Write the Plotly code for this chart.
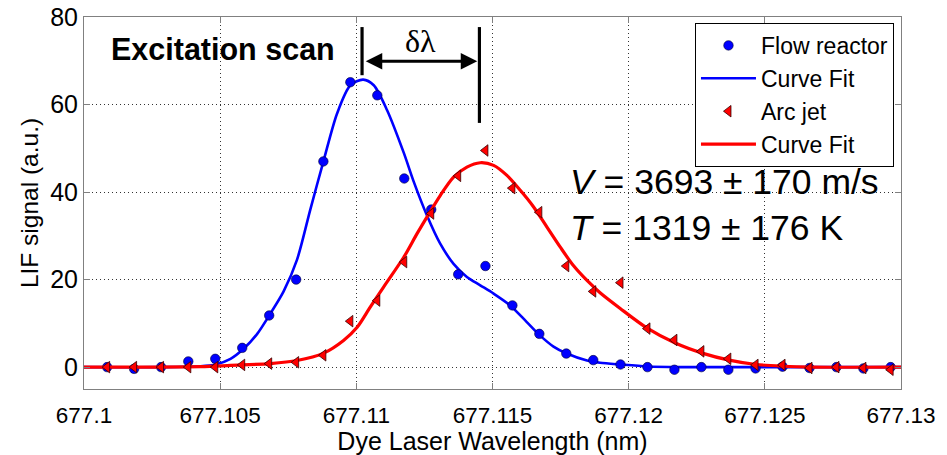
import plotly.graph_objects as go

# Measured LIF excitation scans (wavelength in nm, signal in arbitrary units)
wavelength = [677.10085, 677.10184, 677.10283, 677.10383, 677.10482, 677.10581,
              677.10680, 677.10779, 677.10879, 677.10978, 677.11077, 677.11176,
              677.11275, 677.11374, 677.11474, 677.11573, 677.11672, 677.11771,
              677.11870, 677.11970, 677.12069, 677.12168, 677.12267, 677.12366,
              677.12466, 677.12565, 677.12664, 677.12763, 677.12862, 677.12962]
flow_reactor = [0.0, -0.4, 0.0, 1.3, 1.9, 4.4, 11.8, 20.0, 47.0, 65.1, 62.1, 43.1,
                36.0, 21.2, 23.1, 14.1, 7.6, 3.1, 1.6, 0.6, 0.0, -0.6, 0.0, -0.6,
                -0.3, 0.1, -0.2, 0.0, -0.3, 0.0]
arc_jet = [0.0, 0.0, 0.0, 0.0, 0.0, 0.5, 0.8, 1.1, 2.7, 10.5, 15.2, 24.0,
           35.1, 43.7, 49.5, 40.9, 35.4, 23.1, 17.3, 19.3, 8.8, 6.2, 3.6, 1.9,
           0.5, 0.5, -0.2, 0.0, -0.2, -0.6]

# Fitted line shapes
fit_flow_x = [677.10000, 677.10281, 677.10428, 677.10483, 677.10538, 677.10586,
              677.10636, 677.10684, 677.10733, 677.10782, 677.10831, 677.10880,
              677.10929, 677.10978, 677.11025, 677.11064, 677.11113, 677.11174,
              677.11210, 677.11259, 677.11308, 677.11357, 677.11406, 677.11455,
              677.11504, 677.11565, 677.11626, 677.11675, 677.11724, 677.11773,
              677.11847, 677.11895, 677.11969, 677.12068, 677.12189, 677.13000]
fit_flow_y = [0.0, 0.0, 0.2, 0.6, 1.9, 4.2,
              7.6, 12.2, 17.3, 24.5, 36.0, 47.2,
              57.9, 64.4, 65.7, 64.4, 58.7, 49.0,
              42.5, 34.7, 28.2, 23.6, 20.6, 18.7,
              16.8, 14.1, 10.3, 7.2, 4.7, 3.1,
              1.5, 1.0, 0.6, 0.15, 0.0, 0.0]

fit_arc_x = [677.10000, 677.10428, 677.10538, 677.10684, 677.10782, 677.10880,
             677.10953, 677.11003, 677.11051, 677.11100, 677.11174, 677.11223,
             677.11272, 677.11308, 677.11357, 677.11406, 677.11455, 677.11504,
             677.11553, 677.11602, 677.11651, 677.11700, 677.11749, 677.11797,
             677.11847, 677.11895, 677.11969, 677.12068, 677.12171, 677.12270,
             677.12369, 677.12468, 677.12567, 677.12666, 677.13000]
fit_arc_y = [0.0, 0.1, 0.4, 0.8, 1.5, 3.2,
             6.1, 9.1, 13.7, 18.3, 25.1, 30.5,
             35.6, 39.2, 43.4, 45.7, 46.7, 46.1,
             43.8, 40.4, 36.6, 32.0, 27.4, 23.2,
             19.8, 17.0, 13.4, 8.9, 5.5, 3.2,
             1.6, 0.6, 0.2, 0.0, 0.0]

x_ticks = [677.1, 677.105, 677.11, 677.115, 677.12, 677.125, 677.13]
x_tick_labels = ["677.1", "677.105", "677.11", "677.115", "677.12", "677.125", "677.13"]
y_ticks = [0, 20, 40, 60, 80]

# Line centres marking the Doppler shift
peak_flow = 677.11021
peak_arc = 677.11452

SANS = "Liberation Sans, Arial, sans-serif"
BLUE = "#0000ff"
RED = "#ff0000"

fig = go.Figure()

fig.add_trace(go.Scatter(
    x=fit_flow_x, y=fit_flow_y, mode="lines", name="Curve Fit",
    line=dict(color=BLUE, width=2.6, shape="spline", smoothing=0.8),
    legendrank=2))
fig.add_trace(go.Scatter(
    x=wavelength, y=flow_reactor, mode="markers", name="Flow reactor",
    marker=dict(symbol="circle", size=9.5, color=BLUE,
                line=dict(color="#000033", width=0.6)),
    legendrank=1))
fig.add_trace(go.Scatter(
    x=fit_arc_x, y=fit_arc_y, mode="lines", name="Curve Fit",
    line=dict(color=RED, width=3.2, shape="spline", smoothing=0.8),
    legendrank=4))
fig.add_trace(go.Scatter(
    x=wavelength, y=arc_jet, mode="markers", name="Arc jet",
    marker=dict(symbol="triangle-left", size=10, color=RED,
                line=dict(color="#330000", width=0.8)),
    legendrank=3))

# Shift indicator: two vertical bars and a double-headed arrow
fig.add_shape(type="line", x0=peak_flow, x1=peak_flow, y0=66.7, y1=77.7,
              xref="x", yref="y", line=dict(color="black", width=3.2))
fig.add_shape(type="line", x0=peak_arc, x1=peak_arc, y0=55.8, y1=77.7,
              xref="x", yref="y", line=dict(color="black", width=3.2))
fig.add_annotation(x=peak_arc - 0.00008, y=69.9, ax=peak_flow + 0.00008, ay=69.9,
                   xref="x", yref="y", axref="x", ayref="y", text="",
                   showarrow=True, arrowhead=2, arrowside="end+start",
                   arrowsize=1.1, arrowwidth=3, arrowcolor="black")
fig.add_annotation(x=(peak_flow + peak_arc) / 2, y=74.6, xref="x", yref="y",
                   text="δλ", showarrow=False,
                   font=dict(family="Liberation Serif, Times New Roman, serif",
                             size=32, color="black"))

fig.add_annotation(x=677.1051, y=72.6, xref="x", yref="y",
                   text="<b>Excitation scan</b>", showarrow=False,
                   font=dict(family=SANS, size=30.5, color="black"))
fig.add_annotation(x=677.11778, y=42.2, xref="x", yref="y", xanchor="left",
                   text="<i>V</i> = 3693 ± 170 m/s", showarrow=False,
                   font=dict(family=SANS, size=35.5, color="black"))
fig.add_annotation(x=677.11778, y=31.9, xref="x", yref="y", xanchor="left",
                   text="<i>T</i> = 1319 ± 176 K", showarrow=False,
                   font=dict(family=SANS, size=35.5, color="black"))

axis_common = dict(
    showline=True, linecolor="#808080", linewidth=1, mirror="ticks",
    ticks="inside", ticklen=6, tickcolor="#808080",
    showgrid=True, gridcolor="#333333", griddash="1px,3px", gridwidth=1,
    zeroline=False, automargin=False,
)

fig.update_xaxes(
    range=[677.1, 677.13], tickvals=x_ticks, ticktext=x_tick_labels,
    tickfont=dict(family=SANS, size=22.5, color="black"),
    ticklabelstandoff=6,
    title=dict(text="Dye Laser Wavelength (nm)", standoff=4,
               font=dict(family=SANS, size=25, color="black")),
    **axis_common)
fig.update_yaxes(
    range=[-5, 80], tickvals=y_ticks,
    tickfont=dict(family=SANS, size=25, color="black"),
    title=dict(text="LIF signal (a.u.)", standoff=4,
               font=dict(family=SANS, size=24.5, color="black")),
    **axis_common)

fig.update_layout(
    width=947, height=455,
    margin=dict(l=84, r=46, t=17, b=66),
    paper_bgcolor="white", plot_bgcolor="white",
    showlegend=True,
    legend=dict(x=0.9914, y=0.984, xanchor="right", yanchor="top",
                bgcolor="white", bordercolor="black", borderwidth=1,
                font=dict(family=SANS, size=23, color="black"),
                tracegroupgap=0, itemwidth=55),
)

fig.write_html("out.html")
